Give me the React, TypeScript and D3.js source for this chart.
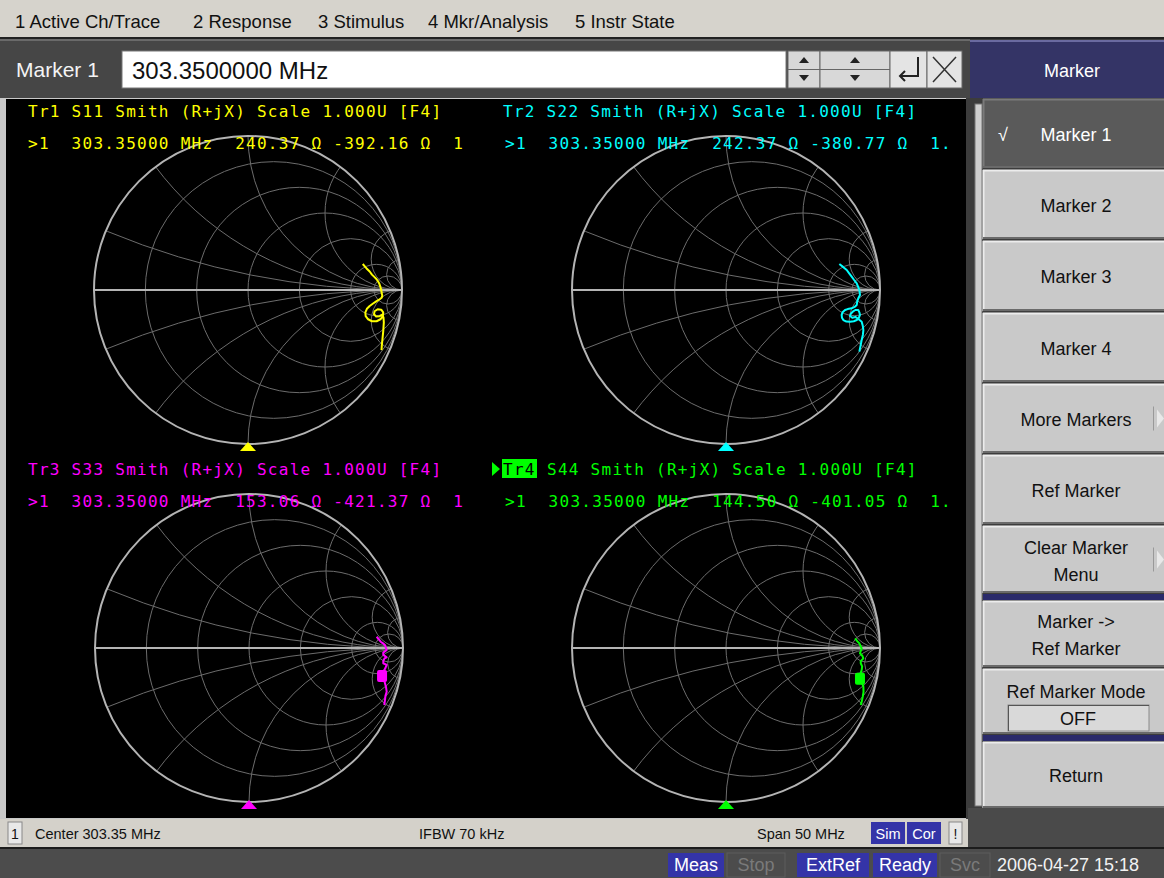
import React from "react";
import * as d3 from "d3";

// ---------- data ----------
const menuItems = ["1 Active Ch/Trace", "2 Response", "3 Stimulus", "4 Mkr/Analysis", "5 Instr State"];
const entryLabel = "Marker 1";
const entryValue = "303.3500000 MHz";
const panelTitle = "Marker";
const softkeys: string[][] = [
  ["Marker 1"], ["Marker 2"], ["Marker 3"], ["Marker 4"], ["More Markers"], ["Ref Marker"],
  ["Clear Marker", "Menu"], ["Marker ->", "Ref Marker"], ["Ref Marker Mode"], ["Return"],
];
const refMarkerModeValue = "OFF";

const traceNames = ["Tr1", "Tr2", "Tr3", "Tr4"];
const traceParams = ["S11", "S22", "S33", "S44"];
const markerFreq = "303.35000 MHz";
const markerR = [240.37, 242.37, 153.06, 144.5];
const markerX = [-392.16, -380.77, -421.37, -401.05];
const markerTail = ["1", "1.", "1", "1."];

const resistanceCircles = [0.2, 0.5, 1, 2, 5, 10];
const reactanceArcs = [0.2, 0.5, 1, 2, 5, 10];

// reflection coefficient traces (re, im)
const traceS11: [number, number][] = [
  [0.745, 0.169], [0.77, 0.14], [0.79, 0.12], [0.805, 0.1], [0.82, 0.085], [0.835, 0.07], [0.845, 0.055],
  [0.853, 0.04], [0.857, 0.028], [0.862, 0.012], [0.866, -0.005], [0.868, -0.02], [0.872, -0.035],
  [0.868, -0.05], [0.855, -0.06], [0.835, -0.072], [0.812, -0.088], [0.79, -0.104], [0.772, -0.122],
  [0.762, -0.145], [0.764, -0.17], [0.78, -0.19], [0.805, -0.203], [0.835, -0.203], [0.86, -0.19],
  [0.876, -0.17], [0.878, -0.145], [0.865, -0.128], [0.842, -0.125], [0.822, -0.138], [0.818, -0.158],
  [0.832, -0.172], [0.855, -0.17], [0.872, -0.16], [0.88, -0.18], [0.882, -0.21], [0.88, -0.24],
  [0.878, -0.27], [0.875, -0.3], [0.872, -0.33], [0.869, -0.36], [0.867, -0.39],
];
const traceS22: [number, number][] = [
  [0.736, 0.169], [0.76, 0.15], [0.784, 0.13], [0.8, 0.108], [0.816, 0.087], [0.832, 0.065], [0.849, 0.043],
  [0.858, 0.02], [0.866, 0], [0.87, -0.032], [0.859, -0.054], [0.852, -0.075], [0.849, -0.097],
  [0.835, -0.11], [0.816, -0.119], [0.79, -0.124], [0.773, -0.13], [0.757, -0.145], [0.751, -0.162],
  [0.753, -0.18], [0.762, -0.195], [0.782, -0.205], [0.805, -0.206], [0.83, -0.203], [0.849, -0.195],
  [0.863, -0.18], [0.87, -0.162], [0.866, -0.145], [0.859, -0.13], [0.84, -0.13], [0.823, -0.141],
  [0.81, -0.155], [0.805, -0.169], [0.82, -0.18], [0.84, -0.175], [0.862, -0.19], [0.881, -0.206],
  [0.888, -0.232], [0.892, -0.26], [0.889, -0.29], [0.881, -0.325], [0.874, -0.36], [0.866, -0.4],
];
const traceS33: [number, number][] = [
  [0.829, 0.073], [0.84, 0.06], [0.855, 0.041], [0.87, 0.03], [0.883, 0.019], [0.894, -0.013], [0.872, -0.03],
  [0.872, -0.045], [0.894, -0.06], [0.88, -0.067], [0.872, -0.085], [0.872, -0.099], [0.894, -0.11],
  [0.885, -0.132], [0.875, -0.15], [0.866, -0.165], [0.864, -0.182], [0.875, -0.2], [0.883, -0.229],
  [0.89, -0.255], [0.894, -0.284], [0.886, -0.31], [0.883, -0.338], [0.878, -0.37],
];
const traceS44: [number, number][] = [
  [0.838, 0.063], [0.852, 0.045], [0.866, 0.03], [0.881, -0.002], [0.87, -0.034], [0.885, -0.05],
  [0.892, -0.067], [0.875, -0.085], [0.875, -0.099], [0.884, -0.12], [0.881, -0.143], [0.872, -0.17],
  [0.87, -0.2], [0.882, -0.225], [0.892, -0.251], [0.893, -0.285], [0.888, -0.316], [0.882, -0.345],
  [0.875, -0.37],
];
const traces = [traceS11, traceS22, traceS33, traceS44];
const markerBlob: ([number, number] | null)[] = [null, null, [0.864, -0.182], [0.87, -0.2]];

const statusCenter = "Center 303.35 MHz";
const statusIfbw = "IFBW 70 kHz";
const statusSpan = "Span 50 MHz";
const statusFlags = ["Sim", "Cor"];
const instrFlags = ["Meas", "Stop", "ExtRef", "Ready", "Svc"];
const instrFlagOn = [true, false, true, true, false];
const timestamp = "2006-04-27 15:18";

// ---------- layout / style ----------
const W = 1164, H = 878;
const R = 154;
const CX = [248, 726, 249, 726];
const CY = [290, 290, 648, 648];
const COLORS = ["#ffff00", "#00ffff", "#ff00ff", "#00ff00"];
const GRID = "#6c6c6c";
const OUTER = "#b4b4b4";
const UI_FONT = "'Liberation Sans', Arial, sans-serif";
const MONO = "'DejaVu Sans Mono', monospace";
const BLUE = "#3434a8";
const menuX = [15, 193, 318, 428, 575];
const keyTops = [99, 170, 241, 313, 384, 455, 526, 601, 669, 742];
const keyBottoms = [168, 239, 311, 382, 453, 524, 593, 667, 734, 808];
const instrX = [668, 727, 797, 873, 940];
const instrW = [56, 58, 72, 64, 50];

function SmithChart({ idx }: { idx: number }) {
  const cx = CX[idx], cy = CY[idx];
  const sx = d3.scaleLinear().domain([-1, 1]).range([cx - R, cx + R]);
  const sy = d3.scaleLinear().domain([-1, 1]).range([cy + R, cy - R]);
  const line = d3.line<[number, number]>().x((d) => sx(d[0])).y((d) => sy(d[1]));
  const clipId = `smithclip${idx}`;
  const color = COLORS[idx];
  const left = idx % 2 === 0;
  const tx = left ? 28 : 503;
  const ty = idx < 2 ? 117 : 475;
  const blob = markerBlob[idx];
  const title = `${traceParams[idx]} Smith (R+jX) Scale 1.000U [F4]`;
  const line2 = `>1  ${markerFreq}  ${markerR[idx].toFixed(2)} Ω ${markerX[idx].toFixed(2)} Ω  ${markerTail[idx]}`;
  const textStyle: React.CSSProperties = { whiteSpace: "pre" };
  return (
    <g>
      <defs>
        <clipPath id={clipId}>
          <circle cx={cx} cy={cy} r={R} />
        </clipPath>
      </defs>
      <g clipPath={`url(#${clipId})`} stroke={GRID} fill="none" strokeWidth={1}>
        {resistanceCircles.map((r) => (
          <circle key={"r" + r} cx={sx(r / (1 + r))} cy={sy(0)} r={sx(1 / (1 + r)) - sx(0)} />
        ))}
        {reactanceArcs.flatMap((x) => [x, -x]).map((x) => (
          <circle key={"x" + x} cx={sx(1)} cy={sy(1 / x)} r={Math.abs(sx(1 / x) - sx(0))} />
        ))}
      </g>
      <circle cx={cx} cy={cy} r={R} fill="none" stroke={OUTER} strokeWidth={2} />
      <line x1={sx(-1)} x2={sx(1)} y1={sy(0)} y2={sy(0)} stroke={OUTER} strokeWidth={2} />
      <path d={line(traces[idx]) || ""} fill="none" stroke={color} strokeWidth={2} strokeLinejoin="round" />
      {blob && <rect x={sx(blob[0]) - 5} y={sy(blob[1]) - 6} width={10} height={12} rx={2} fill={color} />}
      <path d={`M${cx},${cy + R - 2} L${cx - 8},${cy + R + 7} L${cx + 8},${cy + R + 7} Z`} fill={color} />
      {idx === 3 ? (
        <g>
          <path d={`M${tx - 11},${ty - 13} L${tx - 3},${ty - 6} L${tx - 11},${ty + 1} Z`} fill={color} />
          <rect x={tx - 1} y={ty - 16} width={35} height={19} fill={color} />
          <text x={tx} y={ty} fontFamily={MONO} fontSize={16} letterSpacing={1.27} fill="#000" style={textStyle}>
            {traceNames[idx]}
          </text>
          <text x={tx + 44} y={ty} fontFamily={MONO} fontSize={16} letterSpacing={1.27} fill={color} style={textStyle}>
            {title}
          </text>
        </g>
      ) : (
        <text x={tx} y={ty} fontFamily={MONO} fontSize={16} letterSpacing={1.27} fill={color} style={textStyle}>
          {`${traceNames[idx]} ${title}`}
        </text>
      )}
      <text x={left ? 28 : 505} y={ty + 32} fontFamily={MONO} fontSize={16} letterSpacing={1.27} fill={color} style={textStyle}>
        {line2}
      </text>
    </g>
  );
}

function Softkey({ i }: { i: number }) {
  const y0 = keyTops[i], y1 = keyBottoms[i];
  const x0 = 983, x1 = 1164;
  const sel = i === 0;
  const lines = softkeys[i];
  const cxk = 1076;
  const mid = (y0 + y1) / 2;
  const isMode = i === 8;
  const hasArrow = i === 4 || i === 6;
  return (
    <g>
      <rect x={x0} y={y0} width={x1 - x0} height={y1 - y0} fill={sel ? "#5a5a5a" : "#c9c9c9"} />
      <line x1={x0} x2={x1} y1={y0 + 0.5} y2={y0 + 0.5} stroke={sel ? "#7a7a7a" : "#ececec"} strokeWidth={2} />
      <line x1={x0 + 0.5} x2={x0 + 0.5} y1={y0} y2={y1} stroke={sel ? "#7a7a7a" : "#ececec"} strokeWidth={2} />
      <line x1={x0} x2={x1} y1={y1 - 1} y2={y1 - 1} stroke="#6a6a6a" strokeWidth={2} />
      {sel && (
        <text x={998} y={mid + 7} fontFamily={UI_FONT} fontSize={18} fill="#fff">√</text>
      )}
      {isMode ? (
        <g>
          <text x={cxk} y={698} textAnchor="middle" fontFamily={UI_FONT} fontSize={18} fill="#111">{lines[0]}</text>
          <rect x={1008} y={705} width={141} height={26} fill="#d9d9d9" stroke="#8a8a8a" />
          <line x1={1008} x2={1149} y1={705.5} y2={705.5} stroke="#555" />
          <line x1={1008.5} x2={1008.5} y1={705} y2={731} stroke="#555" />
          <text x={1078} y={725} textAnchor="middle" fontFamily={UI_FONT} fontSize={18} fill="#111">{refMarkerModeValue}</text>
        </g>
      ) : lines.length === 1 ? (
        <text x={cxk} y={mid + 7} textAnchor="middle" fontFamily={UI_FONT} fontSize={18} fill={sel ? "#fff" : "#111"}>
          {lines[0]}
        </text>
      ) : (
        <g>
          <text x={cxk} y={mid - 6} textAnchor="middle" fontFamily={UI_FONT} fontSize={18} fill="#111">{lines[0]}</text>
          <text x={cxk} y={mid + 21} textAnchor="middle" fontFamily={UI_FONT} fontSize={18} fill="#111">{lines[1]}</text>
        </g>
      )}
      {hasArrow && (
        <g>
          <line x1={1153.5} x2={1153.5} y1={mid - 12} y2={mid + 12} stroke="#999" />
          <path d={`M1157,${mid - 9} L1164,${mid} L1157,${mid + 9} Z`} fill="#e8e8e8" />
        </g>
      )}
    </g>
  );
}

export default function App() {
  return (
    <svg width={W} height={H} style={{ position: "absolute", left: 0, top: 0, display: "block" }}>
      {/* page background */}
      <rect x={0} y={0} width={W} height={H} fill="#3e3e3e" />
      {/* menu bar */}
      <rect x={0} y={0} width={W} height={38} fill="#d6d3cc" />
      <line x1={0} x2={W} y1={38} y2={38} stroke="#222" strokeWidth={2} />
      {menuItems.map((m, i) => (
        <text key={m} x={menuX[i]} y={28} fontFamily={UI_FONT} fontSize={18.5} fill="#111">{m}</text>
      ))}
      {/* entry bar */}
      <rect x={0} y={39} width={970} height={59} fill="#464646" />
      <line x1={0} x2={970} y1={40} y2={40} stroke="#6a6a6a" strokeWidth={2} />
      <text x={16} y={77} fontFamily={UI_FONT} fontSize={21} fill="#f4f4f4">{entryLabel}</text>
      <rect x={122} y={51} width={664} height={37} fill="#fff" stroke="#777" />
      <text x={132} y={79} fontFamily={UI_FONT} fontSize={24} fill="#111">{entryValue}</text>
      {/* spinner & buttons */}
      <rect x={788} y={51} width={32} height={37} fill="#d8d8d8" stroke="#666" />
      <line x1={788} x2={820} y1={69.5} y2={69.5} stroke="#666" />
      <path d="M799,63 L804,57 L809,63 Z" fill="#222" />
      <path d="M799,75 L804,81 L809,75 Z" fill="#222" />
      <rect x={820} y={51} width={70} height={37} fill="#d8d8d8" stroke="#666" />
      <line x1={820} x2={890} y1={69.5} y2={69.5} stroke="#666" />
      <path d="M850,63 L855,57 L860,63 Z" fill="#222" />
      <path d="M850,75 L855,81 L860,75 Z" fill="#222" />
      <rect x={890} y={51} width={37} height={37} fill="#e4e4e4" stroke="#666" />
      <path d="M918,57 L918,76 L900,76 M905,71 L900,76 L905,81" fill="none" stroke="#222" strokeWidth={2} />
      <rect x={927} y={51} width={35} height={37} fill="#e4e4e4" stroke="#666" />
      <path d="M933,57 L956,82 M956,57 L933,82" stroke="#333" strokeWidth={1.5} />
      {/* right panel header */}
      <rect x={970} y={40} width={194} height={58} fill="#343466" />
      <line x1={970} x2={1164} y1={41} y2={41} stroke="#6a6aa0" strokeWidth={2} />
      <text x={1072} y={77} textAnchor="middle" fontFamily={UI_FONT} fontSize={18} fill="#fff">{panelTitle}</text>
      {/* right panel */}
      <rect x={966} y={98} width={198} height={750} fill="#3c3c3c" />
      <rect x={975} y={104} width={7} height={702} fill="#cfcfcf" stroke="#777" />
      <rect x={983} y={594} width={181} height={6} fill="#2a2a6a" />
      <rect x={983} y={735} width={181} height={6} fill="#2a2a6a" />
      {softkeys.map((_, i) => <Softkey key={i} i={i} />)}
      {/* chart area */}
      <rect x={0} y={98} width={966} height={722} fill="#c8c8c8" />
      <rect x={6} y={99} width={960} height={719} fill="#000" />
      {[0, 1, 2, 3].map((i) => <SmithChart key={i} idx={i} />)}
      {/* channel status bar */}
      <rect x={0} y={819} width={968} height={28} fill="#d4d1ca" />
      <rect x={8} y={822} width={14} height={22} fill="#e8e8e8" stroke="#888" />
      <text x={11} y={839} fontFamily={UI_FONT} fontSize={14} fill="#111">1</text>
      <text x={35} y={839} fontFamily={UI_FONT} fontSize={14.5} fill="#111">{statusCenter}</text>
      <text x={419} y={839} fontFamily={UI_FONT} fontSize={14.5} fill="#111">{statusIfbw}</text>
      <text x={757} y={839} fontFamily={UI_FONT} fontSize={14.5} fill="#111">{statusSpan}</text>
      {statusFlags.map((f, i) => (
        <g key={f}>
          <rect x={871 + i * 36} y={822} width={34} height={22} fill={BLUE} />
          <text x={888 + i * 36} y={839} textAnchor="middle" fontFamily={UI_FONT} fontSize={14.5} fill="#fff">{f}</text>
        </g>
      ))}
      <rect x={949} y={822} width={13} height={22} fill="#e8e8e8" stroke="#888" />
      <text x={955.5} y={839} textAnchor="middle" fontFamily={UI_FONT} fontSize={14} fill="#111">!</text>
      <rect x={968} y={808} width={196} height={39} fill="#4a4a4a" />
      {/* instrument status bar */}
      <rect x={0} y={847} width={W} height={31} fill="#4c4c4c" />
      <line x1={0} x2={W} y1={848} y2={848} stroke="#1c1c1c" strokeWidth={2} />
      {instrFlags.map((f, i) => (
        <g key={f}>
          <rect x={instrX[i]} y={853} width={instrW[i]} height={24} fill={instrFlagOn[i] ? BLUE : "#4c4c4c"} stroke={instrFlagOn[i] ? "none" : "#5c5c5c"} />
          <text x={instrX[i] + instrW[i] / 2} y={871} textAnchor="middle" fontFamily={UI_FONT} fontSize={18} fill={instrFlagOn[i] ? "#fff" : "#7a7a7a"}>{f}</text>
        </g>
      ))}
      <text x={997} y={871} fontFamily={UI_FONT} fontSize={18} fill="#f2f2f2">{timestamp}</text>
    </svg>
  );
}
